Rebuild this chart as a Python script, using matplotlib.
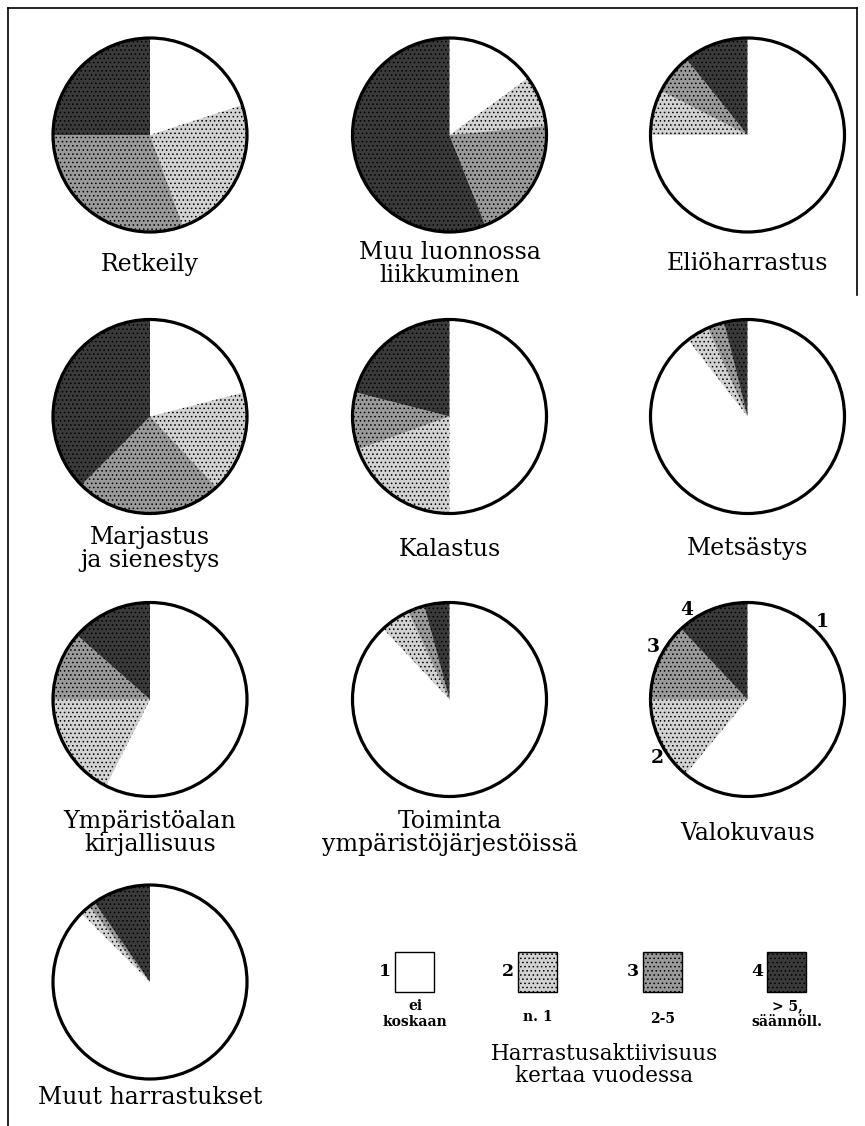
import matplotlib
matplotlib.use("Agg")
import matplotlib.pyplot as plt
from matplotlib.patches import Circle, Rectangle
import numpy as np

# hobbies and share (%) of respondents by activity level
activities = ["Retkeily", "Muu luonnossa\nliikkuminen", "Eliöharrastus",
              "Marjastus\nja sienestys", "Kalastus", "Metsästys",
              "Ympäristöalan\nkirjallisuus", "Toiminta\nympäristöjärjestöissä",
              "Valokuvaus", "Muut harrastukset"]
never = [20, 15, 75, 21, 50, 89.5, 57.5, 88, 61, 87.5]
once = [24.5, 8.5, 7.5, 17, 19.5, 3.8, 17.5, 5, 14, 1.7]
two_to_five = [30.5, 20.5, 6.7, 24.5, 9.5, 2.8, 11.5, 2.8, 13, 1.1]
regular = [25, 56, 10.8, 37.5, 21, 3.9, 13.5, 4.2, 12, 9.7]

class_numbers = ["1", "2", "3", "4"]
class_labels = ["ei\nkoskaan", "n. 1", "2-5", "> 5,\nsäännöll."]
legend_title = "Harrastusaktiivisuus\nkertaa vuodessa"

W, H = 865, 1126
colors = ["white", "#d2d2d2", "#9a9a9a", "#3a3a3a"]
hatches = [None, "....", "....", "...."]

plt.rcParams["font.family"] = ["DejaVu Serif"]
plt.rcParams["hatch.linewidth"] = 0.6

fig = plt.figure(figsize=(W / 100, H / 100), dpi=100)
ax = fig.add_axes([0, 0, 1, 1])

col_x = [150, 449.5, 747.5]
row_y = [135, 416.5, 699.5, 982]
label_y = [264, 549, 833, 1097]
R = 97

shares = np.array([never, once, two_to_five, regular]).T

for i, name in enumerate(activities):
    cx = col_x[i % 3]
    cy = H - row_y[i // 3]
    wedges, _ = ax.pie(shares[i], startangle=90, counterclock=False,
                       center=(cx, cy), radius=R, colors=colors,
                       wedgeprops=dict(linewidth=0, edgecolor="black"))
    for w, h in zip(wedges, hatches):
        if h:
            w.set_hatch(h)
    ax.add_patch(Circle((cx, cy), R, fill=False, lw=2.3, ec="black", zorder=5))
    ax.text(cx, H - label_y[i // 3], name, ha="center", va="center",
            fontsize=17, linespacing=1.0)

# class numbers around the Valokuvaus pie
vx, vy = col_x[2], H - row_y[2]
for num, ang in zip(class_numbers, [44, 237, 299, 326]):
    a = np.deg2rad(90 - ang)
    ax.text(vx + 108 * np.cos(a), vy + 108 * np.sin(a), num,
            ha="center", va="center", fontsize=13.5, fontweight="bold")

# legend
box_x = [395, 518, 643, 767]
sub_y = [1014, 1017, 1019, 1014]
for k in range(4):
    ax.add_patch(Rectangle((box_x[k], H - 992), 39, 40, facecolor=colors[k],
                           edgecolor="black", lw=1.0, hatch=hatches[k]))
    ax.text(box_x[k] - 10, H - 971, class_numbers[k], ha="center",
            va="center", fontsize=12.5, fontweight="bold")
    ax.text(box_x[k] + 20, H - sub_y[k], class_labels[k], ha="center",
            va="center", fontsize=10, fontweight="bold", linespacing=1.1)
ax.text(604, H - 1065, legend_title, ha="center", va="center",
        fontsize=15.5, linespacing=0.95)

# frame
ax.plot([8, 857], [H - 8, H - 8], color="black", lw=1.2)
ax.plot([8, 8], [H - 8, 0], color="black", lw=1.2)
ax.plot([857, 857], [H - 8, H - 295], color="black", lw=1.2)

ax.set_xlim(0, W)
ax.set_ylim(0, H)
ax.set_aspect("equal")
ax.axis("off")

fig.savefig("out.png", dpi=100)
